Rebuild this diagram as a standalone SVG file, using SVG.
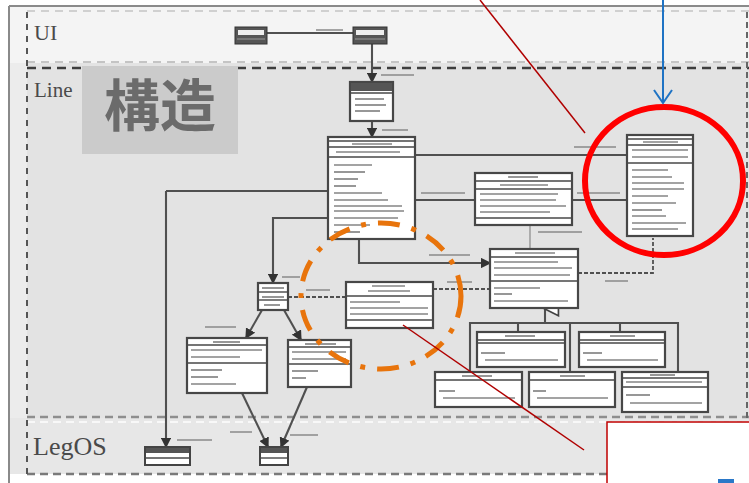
<svg xmlns="http://www.w3.org/2000/svg" width="749" height="483" viewBox="0 0 749 483">
<style>
.box{fill:#fff;stroke:#474747;stroke-width:2.2}
.sep{stroke:#474747;stroke-width:1.4}
.tx{stroke:#858585;stroke-width:1.7}
.cn{fill:none;stroke:#505050;stroke-width:2.1}
.dcn{fill:none;stroke:#505050;stroke-width:1.8;stroke-dasharray:4 2}
.lbl{stroke:#8a8a8a;stroke-width:1.5}
.region{font-family:"Liberation Serif",serif;fill:#4a4a4a}
</style>
<defs>
<marker id="fa" viewBox="0 0 8 8" refX="7" refY="4" markerWidth="5" markerHeight="5" orient="auto"><path d="M0,0 L8,4 L0,8 z" fill="#333"/></marker>
<marker id="inh" viewBox="0 0 10 10" refX="5" refY="1" markerWidth="8" markerHeight="8" orient="auto-start-reverse"><path d="M1,9 L5,1 L9,9 z" fill="#fff" stroke="#444"/></marker>
</defs>
<rect width="749" height="483" fill="#fff"/>
<!-- regions -->
<rect x="10" y="7" width="739" height="56" fill="#f4f4f4"/>
<rect x="10" y="63" width="739" height="355" fill="#e3e3e3"/>
<rect x="10" y="63" width="17" height="355" fill="#ececec"/>
<rect x="10" y="418" width="739" height="56" fill="#e7e7e7"/>
<rect x="10" y="474" width="739" height="9" fill="#fff"/>
<line x1="9" y1="6" x2="749" y2="6" stroke="#8a8a8a" stroke-width="2"/>
<line x1="9" y1="6" x2="9" y2="483" stroke="#8a8a8a" stroke-width="2"/>
<line x1="27" y1="11" x2="749" y2="11" stroke="#d0d0d0" stroke-width="2" stroke-dasharray="8 6"/>
<line x1="27" y1="62" x2="749" y2="62" stroke="#c4c4c4" stroke-width="2" stroke-dasharray="8 6"/>
<line x1="27" y1="68" x2="749" y2="68" stroke="#3e3e3e" stroke-width="2.6" stroke-dasharray="9 6"/>
<line x1="27" y1="417" x2="749" y2="417" stroke="#8e8e8e" stroke-width="2.4" stroke-dasharray="8 5"/>
<line x1="27" y1="422" x2="749" y2="422" stroke="#f8f8f8" stroke-width="2" stroke-dasharray="8 5"/>
<line x1="27" y1="474" x2="749" y2="474" stroke="#7a7a7a" stroke-width="2.4" stroke-dasharray="8 5"/>
<line x1="27" y1="12" x2="27" y2="474" stroke="#555" stroke-width="2" stroke-dasharray="6 6"/>
<line x1="747" y1="12" x2="747" y2="474" stroke="#666" stroke-width="2" stroke-dasharray="6 4"/>
<text class="region" x="34" y="40" font-size="22">UI</text>
<text class="region" x="34" y="97" font-size="21">Line</text>
<text class="region" x="33" y="455" font-size="26">LegOS</text>
<rect x="82" y="66" width="156" height="88" fill="#cbcbcb"/>
<text x="160" y="126" font-family="'Noto Sans CJK JP','Noto Sans CJK SC',sans-serif" font-size="56" font-weight="bold" fill="#6b6b6b" text-anchor="middle">構造</text>

<!-- connectors -->
<g id="connectors">
<line class="cn" x1="267" y1="33" x2="353" y2="33"/>
<line class="lbl" x1="316" y1="30" x2="343" y2="30"/>
<line class="cn" x1="372" y1="44" x2="372" y2="82" marker-end="url(#fa)"/>
<line class="lbl" x1="381" y1="75" x2="414" y2="75"/>
<line class="cn" x1="372" y1="121" x2="372" y2="137" marker-end="url(#fa)"/>
<line class="lbl" x1="382" y1="130" x2="408" y2="130"/>
<line class="cn" x1="415" y1="155" x2="627" y2="155"/>
<line class="lbl" x1="574" y1="147" x2="616" y2="147"/>
<line class="cn" x1="415" y1="200" x2="475" y2="200"/>
<line class="lbl" x1="421" y1="193" x2="465" y2="193"/>
<line class="cn" x1="572" y1="200" x2="627" y2="200"/>
<line class="lbl" x1="577" y1="193" x2="620" y2="193"/>
<line class="cn" x1="166" y1="191" x2="328" y2="191"/>
<line class="cn" x1="166" y1="191" x2="166" y2="447" marker-end="url(#fa)"/>
<line class="lbl" x1="177" y1="440" x2="212" y2="440"/>
<polyline class="cn" points="328,218 273,218 273,283" marker-end="url(#fa)"/>
<line class="lbl" x1="282" y1="277" x2="300" y2="277"/>
<polyline class="cn" points="359,239 359,263 490,263" marker-end="url(#fa)"/>
<line class="lbl" x1="429" y1="255" x2="470" y2="255"/>
<line x1="530" y1="225" x2="530" y2="249" stroke="#888" stroke-width="1.2"/>
<line class="lbl" x1="538" y1="232" x2="582" y2="232"/>
<polyline class="dcn" points="578,273 653,273 653,238"/>
<line class="lbl" x1="605" y1="281" x2="628" y2="281"/>
<line class="dcn" x1="433" y1="289" x2="490" y2="289"/>
<line class="lbl" x1="447" y1="282" x2="472" y2="282"/>
<line class="dcn" x1="288" y1="297" x2="346" y2="297"/>
<line class="lbl" x1="306" y1="290" x2="330" y2="290"/>
<line class="cn" x1="262" y1="310" x2="246" y2="338" marker-end="url(#fa)"/>
<line class="lbl" x1="205" y1="327" x2="236" y2="327"/>
<line class="cn" x1="284" y1="310" x2="301" y2="340" marker-end="url(#fa)"/>
<line class="cn" x1="242" y1="393" x2="268" y2="447" marker-end="url(#fa)"/>
<line class="lbl" x1="230" y1="432" x2="252" y2="432"/>
<line class="cn" x1="307" y1="387" x2="281" y2="447" marker-end="url(#fa)"/>
<line class="lbl" x1="290" y1="435" x2="318" y2="435"/>
<line class="cn" x1="545" y1="323" x2="545" y2="309" marker-end="url(#inh)"/>
<polyline class="cn" points="470,372 470,323 678,323 678,372"/>
<line class="cn" x1="570" y1="323" x2="570" y2="372"/>
<line class="cn" x1="518" y1="323" x2="518" y2="332"/>
<line class="cn" x1="620" y1="323" x2="620" y2="332"/>
</g>

<!-- UI nodes -->
<g id="ui-a"><rect x="235" y="27" width="32" height="17" fill="#555" stroke="#333"/><rect x="238" y="30" width="26" height="5" fill="#eee"/><line x1="237" y1="39" x2="265" y2="39" stroke="#999"/></g>
<g id="ui-b"><rect x="353" y="27" width="34" height="17" fill="#555" stroke="#333"/><rect x="356" y="30" width="28" height="5" fill="#eee"/><line x1="355" y1="39" x2="385" y2="39" stroke="#999"/></g>

<!-- Line nodes -->
<g id="node-c"><rect class="box" x="350" y="82" width="43" height="39"/><rect x="351" y="83" width="41" height="8" fill="#555"/><line class="sep" x1="350" y1="93" x2="393" y2="93"/><line class="tx" x1="355" y1="99" x2="384" y2="99"/><line class="tx" x1="355" y1="105" x2="386" y2="105"/><line class="tx" x1="355" y1="111" x2="380" y2="111"/></g>

<g id="node-d"><rect class="box" x="328" y="137" width="87" height="102"/><line class="sep" x1="328" y1="141" x2="415" y2="141"/><line class="tx" x1="352" y1="144" x2="392" y2="144"/><line class="sep" x1="328" y1="147" x2="415" y2="147"/><line class="tx" x1="336" y1="152" x2="400" y2="152"/><line class="sep" x1="328" y1="157" x2="415" y2="157"/>
<line class="tx" x1="334" y1="165" x2="372" y2="165"/><line class="tx" x1="334" y1="172" x2="365" y2="172"/><line class="tx" x1="334" y1="179" x2="358" y2="179"/><line class="tx" x1="334" y1="186" x2="356" y2="186"/><line class="tx" x1="334" y1="193" x2="382" y2="193"/><line class="tx" x1="334" y1="200" x2="388" y2="200"/><line class="tx" x1="334" y1="206" x2="402" y2="206"/><line class="tx" x1="334" y1="211" x2="404" y2="211"/><line class="tx" x1="334" y1="218" x2="398" y2="218"/><line class="tx" x1="334" y1="225" x2="370" y2="225"/><line class="tx" x1="334" y1="232" x2="360" y2="232"/></g>

<g id="node-e"><rect class="box" x="475" y="173" width="97" height="52"/><line class="tx" x1="508" y1="177" x2="538" y2="177"/><line class="sep" x1="475" y1="181" x2="572" y2="181"/><line class="tx" x1="500" y1="185" x2="548" y2="185"/><line class="sep" x1="475" y1="189" x2="572" y2="189"/><line class="tx" x1="480" y1="194" x2="558" y2="194"/><line class="tx" x1="480" y1="200" x2="556" y2="200"/><line class="tx" x1="480" y1="206" x2="566" y2="206"/><line class="tx" x1="480" y1="212" x2="550" y2="212"/><line class="sep" x1="475" y1="218" x2="572" y2="218"/></g>

<g id="node-f"><rect class="box" x="627" y="135" width="66" height="101"/><line class="sep" x1="627" y1="139" x2="693" y2="139"/><line class="tx" x1="643" y1="142" x2="678" y2="142"/><line class="sep" x1="627" y1="145" x2="693" y2="145"/><line class="tx" x1="632" y1="150" x2="688" y2="150"/><line class="tx" x1="632" y1="157" x2="688" y2="157"/><line class="sep" x1="627" y1="163" x2="693" y2="163"/>
<line class="tx" x1="632" y1="170" x2="668" y2="170"/><line class="tx" x1="632" y1="177" x2="672" y2="177"/><line class="tx" x1="632" y1="183" x2="684" y2="183"/><line class="tx" x1="632" y1="189" x2="684" y2="189"/><line class="tx" x1="632" y1="196" x2="668" y2="196"/><line class="tx" x1="632" y1="203" x2="676" y2="203"/><line class="tx" x1="632" y1="210" x2="662" y2="210"/><line class="tx" x1="632" y1="216" x2="666" y2="216"/><line class="tx" x1="632" y1="223" x2="686" y2="223"/><line class="tx" x1="632" y1="229" x2="678" y2="229"/></g>

<g id="node-g"><rect class="box" x="258" y="283" width="30" height="27"/><line class="tx" x1="262" y1="288" x2="284" y2="288"/><line class="sep" x1="258" y1="292" x2="288" y2="292"/><line class="tx" x1="262" y1="297" x2="284" y2="297"/><line class="sep" x1="258" y1="300" x2="288" y2="300"/><line class="tx" x1="264" y1="305" x2="280" y2="305"/></g>

<g id="node-h"><rect class="box" x="490" y="249" width="88" height="59"/><line class="tx" x1="515" y1="253" x2="555" y2="253"/><line class="sep" x1="490" y1="257" x2="578" y2="257"/><line class="tx" x1="494" y1="262" x2="558" y2="262"/><line class="tx" x1="494" y1="268" x2="572" y2="268"/><line class="tx" x1="494" y1="275" x2="570" y2="275"/><line class="sep" x1="490" y1="281" x2="578" y2="281"/><line class="tx" x1="494" y1="288" x2="540" y2="288"/><line class="tx" x1="494" y1="294" x2="512" y2="294"/><line class="tx" x1="494" y1="301" x2="568" y2="301"/></g>

<g id="node-i"><rect class="box" x="346" y="282" width="87" height="46"/><line class="tx" x1="372" y1="286" x2="405" y2="286"/><line class="tx" x1="368" y1="291" x2="410" y2="291"/><line class="sep" x1="346" y1="296" x2="433" y2="296"/><line class="tx" x1="350" y1="302" x2="400" y2="302"/><line class="tx" x1="350" y1="308" x2="428" y2="308"/><line class="tx" x1="350" y1="314" x2="428" y2="314"/><line class="sep" x1="346" y1="320" x2="433" y2="320"/></g>

<g id="node-j"><rect class="box" x="187" y="338" width="80" height="55"/><line class="tx" x1="213" y1="342" x2="240" y2="342"/><line class="sep" x1="187" y1="345" x2="267" y2="345"/><line class="tx" x1="191" y1="350" x2="262" y2="350"/><line class="tx" x1="191" y1="357" x2="240" y2="357"/><line class="sep" x1="187" y1="363" x2="267" y2="363"/><line class="tx" x1="191" y1="370" x2="222" y2="370"/><line class="tx" x1="191" y1="377" x2="218" y2="377"/><line class="tx" x1="191" y1="384" x2="236" y2="384"/></g>

<g id="node-k"><rect class="box" x="288" y="340" width="63" height="47"/><line class="tx" x1="305" y1="344" x2="336" y2="344"/><line class="sep" x1="288" y1="347" x2="351" y2="347"/><line class="tx" x1="292" y1="352" x2="346" y2="352"/><line class="tx" x1="292" y1="359" x2="346" y2="359"/><line class="sep" x1="288" y1="364" x2="351" y2="364"/><line class="tx" x1="292" y1="371" x2="318" y2="371"/><line class="tx" x1="292" y1="378" x2="306" y2="378"/></g>

<g id="node-n"><rect class="box" x="477" y="332" width="88" height="35"/><line class="tx" x1="505" y1="336" x2="535" y2="336"/><line class="sep" x1="477" y1="340" x2="565" y2="340"/><line class="sep" x1="477" y1="343" x2="565" y2="343"/><line class="tx" x1="481" y1="353" x2="505" y2="353"/><line class="tx" x1="485" y1="360" x2="558" y2="360"/></g>
<g id="node-o"><rect class="box" x="579" y="332" width="86" height="35"/><line class="tx" x1="610" y1="336" x2="635" y2="336"/><line class="sep" x1="579" y1="340" x2="665" y2="340"/><line class="sep" x1="579" y1="343" x2="665" y2="343"/><line class="tx" x1="583" y1="353" x2="602" y2="353"/><line class="tx" x1="587" y1="360" x2="658" y2="360"/></g>
<g id="node-p"><rect class="box" x="435" y="372" width="87" height="35"/><line class="tx" x1="462" y1="376" x2="492" y2="376"/><line class="sep" x1="435" y1="380" x2="522" y2="380"/><line class="tx" x1="439" y1="391" x2="455" y2="391"/><line class="tx" x1="443" y1="398" x2="515" y2="398"/></g>
<g id="node-q"><rect class="box" x="529" y="372" width="86" height="35"/><line class="tx" x1="560" y1="376" x2="585" y2="376"/><line class="sep" x1="529" y1="380" x2="615" y2="380"/><line class="tx" x1="533" y1="391" x2="546" y2="391"/><line class="tx" x1="537" y1="398" x2="608" y2="398"/></g>
<g id="node-r"><rect class="box" x="622" y="372" width="86" height="40"/><line class="tx" x1="650" y1="375" x2="675" y2="375"/><line class="sep" x1="622" y1="378" x2="708" y2="378"/><line class="tx" x1="626" y1="382" x2="702" y2="382"/><line class="sep" x1="622" y1="387" x2="708" y2="387"/><line class="tx" x1="626" y1="395" x2="650" y2="395"/><line class="tx" x1="630" y1="403" x2="702" y2="403"/></g>

<!-- LegOS nodes -->
<g id="node-l"><rect x="145" y="447" width="45" height="18" fill="#fff" stroke="#444" stroke-width="2"/><rect x="146" y="448" width="43" height="5" fill="#555"/><line class="sep" x1="145" y1="458" x2="190" y2="458"/></g>
<g id="node-m"><rect x="260" y="447" width="28" height="18" fill="#fff" stroke="#444" stroke-width="2"/><rect x="261" y="448" width="26" height="5" fill="#555"/><line class="sep" x1="260" y1="458" x2="288" y2="458"/></g>

<!-- annotations -->
<ellipse cx="381" cy="296" rx="80" ry="73" fill="none" stroke="#e8740c" stroke-width="5" stroke-dasharray="22 12 5 12"/>
<ellipse cx="664" cy="181" rx="79" ry="74" fill="none" stroke="#ff0000" stroke-width="6"/>
<line x1="480" y1="0" x2="585" y2="133" stroke="#b00000" stroke-width="1.5"/>
<line x1="403" y1="325" x2="584" y2="450" stroke="#b00000" stroke-width="1.5"/>
<line x1="663" y1="0" x2="663" y2="103" stroke="#1f73c4" stroke-width="2"/>
<polyline points="654,90 663,103 672,90" fill="none" stroke="#1f73c4" stroke-width="2"/>
<rect x="607" y="422" width="150" height="70" fill="#fff" stroke="#c00000" stroke-width="1.5"/>
<rect x="718" y="479" width="16" height="4" fill="#2a78c8"/>
</svg>
